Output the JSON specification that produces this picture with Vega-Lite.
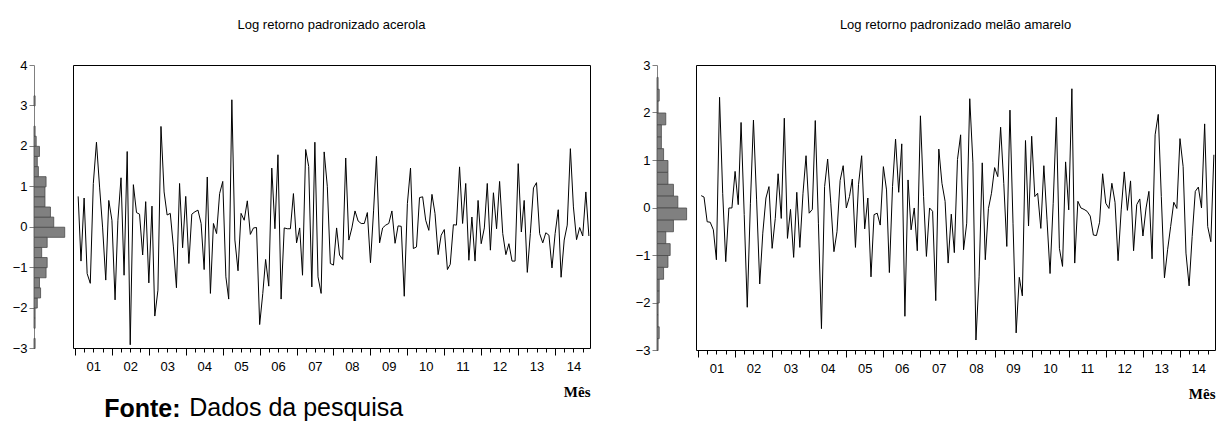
{
  "$schema": "https://vega.github.io/schema/vega-lite/v6.json",
  "background": "white",
  "padding": {"left": 12, "top": 18, "right": 5, "bottom": 0},
  "config": {
    "font": "Liberation Sans",
    "view": {"stroke": "black", "strokeWidth": 1},
    "axis": {"labelFont": "Liberation Sans", "labelColor": "black", "grid": false},
    "title": {"font": "Liberation Sans", "fontWeight": "normal", "color": "black"}
  },
  "datasets": {
    "s": [
      {"d": "2001-02", "a": 0.75, "m": 0.25},
      {"d": "2001-03", "a": -0.85, "m": 0.22},
      {"d": "2001-04", "a": 0.71, "m": -0.30},
      {"d": "2001-05", "a": -1.16, "m": -0.31},
      {"d": "2001-06", "a": -1.40, "m": -0.47},
      {"d": "2001-07", "a": 1.07, "m": -1.10},
      {"d": "2001-08", "a": 2.09, "m": 2.32},
      {"d": "2001-09", "a": 0.98, "m": 0.30},
      {"d": "2001-10", "a": -0.03, "m": -1.14},
      {"d": "2001-11", "a": -1.32, "m": -0.01},
      {"d": "2001-12", "a": 0.65, "m": -0.01},
      {"d": "2002-01", "a": 0.16, "m": 0.76},
      {"d": "2002-02", "a": -1.81, "m": 0.06},
      {"d": "2002-03", "a": 0.16, "m": 1.79},
      {"d": "2002-04", "a": 1.21, "m": -0.15},
      {"d": "2002-05", "a": -1.20, "m": -2.10},
      {"d": "2002-06", "a": 1.86, "m": 0.09},
      {"d": "2002-07", "a": -2.92, "m": 1.84},
      {"d": "2002-08", "a": 1.04, "m": 0.16},
      {"d": "2002-09", "a": 0.35, "m": -1.61},
      {"d": "2002-10", "a": 0.31, "m": -0.54},
      {"d": "2002-11", "a": -0.70, "m": 0.20},
      {"d": "2002-12", "a": 0.62, "m": 0.44},
      {"d": "2003-01", "a": -1.39, "m": -0.86},
      {"d": "2003-02", "a": 0.51, "m": -0.23},
      {"d": "2003-03", "a": -2.21, "m": 0.71},
      {"d": "2003-04", "a": -1.57, "m": -0.23},
      {"d": "2003-05", "a": 2.48, "m": 1.88},
      {"d": "2003-06", "a": 0.86, "m": -0.65},
      {"d": "2003-07", "a": 0.29, "m": -0.04},
      {"d": "2003-08", "a": 0.33, "m": -1.05},
      {"d": "2003-09", "a": -0.50, "m": 0.32},
      {"d": "2003-10", "a": -1.51, "m": -0.84},
      {"d": "2003-11", "a": 1.07, "m": 0.30},
      {"d": "2003-12", "a": -0.52, "m": 1.09},
      {"d": "2004-01", "a": 0.75, "m": -0.12},
      {"d": "2004-02", "a": -0.91, "m": -0.04},
      {"d": "2004-03", "a": 0.31, "m": 1.83},
      {"d": "2004-04", "a": 0.37, "m": -0.33},
      {"d": "2004-05", "a": 0.41, "m": -2.55},
      {"d": "2004-06", "a": 0.08, "m": 0.44},
      {"d": "2004-07", "a": -1.06, "m": 1.02},
      {"d": "2004-08", "a": 1.23, "m": 0.09},
      {"d": "2004-09", "a": -1.65, "m": -0.93},
      {"d": "2004-10", "a": 0.08, "m": -0.51},
      {"d": "2004-11", "a": -0.17, "m": 0.57},
      {"d": "2004-12", "a": 0.82, "m": 0.88},
      {"d": "2005-01", "a": 1.12, "m": -0.01},
      {"d": "2005-02", "a": -1.24, "m": 0.23},
      {"d": "2005-03", "a": -1.79, "m": 0.60},
      {"d": "2005-04", "a": 3.14, "m": -0.84},
      {"d": "2005-05", "a": -0.33, "m": 0.48},
      {"d": "2005-06", "a": -1.09, "m": 1.09},
      {"d": "2005-07", "a": 0.33, "m": -0.45},
      {"d": "2005-08", "a": 0.16, "m": 0.20},
      {"d": "2005-09", "a": 0.64, "m": -1.46},
      {"d": "2005-10", "a": -0.19, "m": -0.15},
      {"d": "2005-11", "a": -0.03, "m": -0.12},
      {"d": "2005-12", "a": -0.02, "m": -0.37},
      {"d": "2006-01", "a": -2.42, "m": 0.86},
      {"d": "2006-02", "a": -1.65, "m": 0.37},
      {"d": "2006-03", "a": -0.81, "m": -1.37},
      {"d": "2006-04", "a": -1.47, "m": 0.44},
      {"d": "2006-05", "a": 1.45, "m": 1.44},
      {"d": "2006-06", "a": -0.05, "m": 0.32},
      {"d": "2006-07", "a": 1.78, "m": 1.34},
      {"d": "2006-08", "a": -1.79, "m": -2.29},
      {"d": "2006-09", "a": -0.03, "m": 0.58},
      {"d": "2006-10", "a": -0.05, "m": -0.47},
      {"d": "2006-11", "a": -0.05, "m": -0.01},
      {"d": "2006-12", "a": 0.82, "m": -0.91},
      {"d": "2007-01", "a": -0.40, "m": 1.93},
      {"d": "2007-02", "a": -0.03, "m": 0.23},
      {"d": "2007-03", "a": -1.20, "m": -1.03},
      {"d": "2007-04", "a": 1.91, "m": -0.01},
      {"d": "2007-05", "a": 1.49, "m": -0.08},
      {"d": "2007-06", "a": -1.49, "m": -1.96},
      {"d": "2007-07", "a": 2.09, "m": 1.23},
      {"d": "2007-08", "a": -1.24, "m": 0.51},
      {"d": "2007-09", "a": -1.65, "m": 0.13},
      {"d": "2007-10", "a": 1.85, "m": -1.17},
      {"d": "2007-11", "a": 1.00, "m": -0.14},
      {"d": "2007-12", "a": -0.91, "m": -0.95},
      {"d": "2008-01", "a": -0.95, "m": 1.01},
      {"d": "2008-02", "a": -0.03, "m": 1.53},
      {"d": "2008-03", "a": -0.70, "m": -0.89},
      {"d": "2008-04", "a": -0.81, "m": -0.33},
      {"d": "2008-05", "a": 1.70, "m": 2.29},
      {"d": "2008-06", "a": -0.33, "m": 0.94},
      {"d": "2008-07", "a": -0.03, "m": -2.79},
      {"d": "2008-08", "a": 0.39, "m": -1.46},
      {"d": "2008-09", "a": 0.14, "m": 0.94},
      {"d": "2008-10", "a": 0.08, "m": -1.10},
      {"d": "2008-11", "a": 0.08, "m": -0.02},
      {"d": "2008-12", "a": 0.35, "m": 0.30},
      {"d": "2009-01", "a": -0.89, "m": 0.84},
      {"d": "2009-02", "a": 0.41, "m": 0.65},
      {"d": "2009-03", "a": 1.74, "m": 1.69},
      {"d": "2009-04", "a": -0.40, "m": 0.51},
      {"d": "2009-05", "a": -0.03, "m": -0.82},
      {"d": "2009-06", "a": 0.04, "m": 2.05},
      {"d": "2009-07", "a": 0.08, "m": -0.33},
      {"d": "2009-08", "a": 0.39, "m": -2.64},
      {"d": "2009-09", "a": -0.41, "m": -1.47},
      {"d": "2009-10", "a": 0.02, "m": -1.86},
      {"d": "2009-11", "a": 0.01, "m": 1.41},
      {"d": "2009-12", "a": -1.72, "m": -0.39},
      {"d": "2010-01", "a": 0.57, "m": 1.50},
      {"d": "2010-02", "a": 1.45, "m": 0.23},
      {"d": "2010-03", "a": -0.54, "m": 0.30},
      {"d": "2010-04", "a": -0.50, "m": -0.44},
      {"d": "2010-05", "a": 0.72, "m": 0.88},
      {"d": "2010-06", "a": 0.74, "m": -0.26},
      {"d": "2010-07", "a": 0.16, "m": -1.39},
      {"d": "2010-08", "a": -0.09, "m": 0.09},
      {"d": "2010-09", "a": 0.80, "m": 1.90},
      {"d": "2010-10", "a": 0.33, "m": -0.86},
      {"d": "2010-11", "a": -0.69, "m": -1.24},
      {"d": "2010-12", "a": -0.21, "m": 0.96},
      {"d": "2011-01", "a": -0.07, "m": -0.05},
      {"d": "2011-02", "a": -1.06, "m": 2.50},
      {"d": "2011-03", "a": -0.93, "m": -1.17},
      {"d": "2011-04", "a": 0.05, "m": 0.13},
      {"d": "2011-05", "a": 0.04, "m": -0.01},
      {"d": "2011-06", "a": 1.48, "m": -0.04},
      {"d": "2011-07", "a": 0.08, "m": -0.08},
      {"d": "2011-08", "a": 1.07, "m": -0.18},
      {"d": "2011-09", "a": -0.83, "m": -0.58},
      {"d": "2011-10", "a": 0.24, "m": -0.59},
      {"d": "2011-11", "a": -0.85, "m": -0.31},
      {"d": "2011-12", "a": 0.65, "m": 0.71},
      {"d": "2012-01", "a": -0.42, "m": 0.09},
      {"d": "2012-02", "a": -0.03, "m": -0.02},
      {"d": "2012-03", "a": 1.07, "m": 0.51},
      {"d": "2012-04", "a": -0.58, "m": 0.11},
      {"d": "2012-05", "a": 0.84, "m": -1.12},
      {"d": "2012-06", "a": -0.05, "m": -0.05},
      {"d": "2012-07", "a": 1.12, "m": 0.75},
      {"d": "2012-08", "a": -0.17, "m": -0.06},
      {"d": "2012-09", "a": -0.69, "m": 0.56},
      {"d": "2012-10", "a": -0.42, "m": -0.91},
      {"d": "2012-11", "a": -0.85, "m": 0.06},
      {"d": "2012-12", "a": -0.85, "m": 0.18},
      {"d": "2013-01", "a": 1.56, "m": -0.60},
      {"d": "2013-02", "a": -0.13, "m": -0.01},
      {"d": "2013-03", "a": 0.65, "m": 0.34},
      {"d": "2013-04", "a": -1.13, "m": -1.08},
      {"d": "2013-05", "a": -0.17, "m": 1.53},
      {"d": "2013-06", "a": 0.96, "m": 1.96},
      {"d": "2013-07", "a": 1.09, "m": 0.23},
      {"d": "2013-08", "a": -0.17, "m": -1.48},
      {"d": "2013-09", "a": -0.40, "m": -0.89},
      {"d": "2013-10", "a": -0.15, "m": -0.40},
      {"d": "2013-11", "a": -0.21, "m": 0.11},
      {"d": "2013-12", "a": -1.02, "m": -0.02},
      {"d": "2014-01", "a": -0.17, "m": 1.45},
      {"d": "2014-02", "a": 0.42, "m": 0.86},
      {"d": "2014-03", "a": -1.25, "m": -0.96},
      {"d": "2014-04", "a": -0.33, "m": -1.65},
      {"d": "2014-05", "a": 0.04, "m": -0.61},
      {"d": "2014-06", "a": 1.93, "m": 0.34},
      {"d": "2014-07", "a": 0.49, "m": 0.43},
      {"d": "2014-08", "a": -0.32, "m": -0.01},
      {"d": "2014-09", "a": -0.02, "m": 1.76},
      {"d": "2014-10", "a": -0.23, "m": -0.40},
      {"d": "2014-11", "a": 0.86, "m": -0.72},
      {"d": "2014-12", "a": -0.23, "m": 1.11}
    ]
  },
  "title": {"text": "Fonte:", "orient": "bottom", "anchor": "start", "fontSize": 25, "fontWeight": "bold", "dx": 92, "dy": -26, "offset": 2},
  "spacing": 43,
  "hconcat": [
    {
      "spacing": 4,
      "title": {"text": "Dados da pesquisa", "orient": "bottom", "anchor": "start", "fontSize": 25, "dx": 177, "offset": -4},
      "hconcat": [
        {
          "width": 34,
          "height": 283,
          "view": {"stroke": null},
          "data": {"name": "s"},
          "mark": {"type": "bar", "fill": "#808080", "stroke": "#4a4a4a", "strokeWidth": 0.8, "binSpacing": 0},
          "encoding": {
            "y": {"field": "a", "type": "quantitative", "bin": {"step": 0.25, "extent": [-3, 4]},
                  "scale": {"domain": [-3, 4], "nice": false, "zero": false},
                  "axis": {"title": null, "values": [-3, -2, -1, 0, 1, 2, 3, 4], "format": "d", "tickSize": 5, "tickColor": "#808080", "domainColor": "#808080", "labelFontSize": 13, "labelPadding": 2, "labelFlush": false, "labelOverlap": false}},
            "x": {"aggregate": "count", "type": "quantitative", "scale": {"domain": [0, 31]}, "axis": null}
          }
        },
        {
          "width": 517,
          "height": 283,
          "title": {"text": "Log retorno padronizado acerola", "fontSize": 13, "offset": 33},
          "data": {"name": "s"},
          "mark": {"type": "line", "color": "black", "strokeWidth": 1},
          "encoding": {
            "x": {"field": "d", "type": "temporal",
                  "scale": {"type": "utc", "domain": [{"year": 2000, "month": 12, "date": 12, "utc": true}, {"year": 2014, "month": 12, "date": 12, "utc": true}]},
                  "axis": {"title": "Mês", "titleFont": "Liberation Serif", "titleFontWeight": "bold", "titleFontSize": 15, "titleAnchor": "end", "titlePadding": 8,
                           "domain": false, "tickCount": {"interval": "month", "step": 3},
                           "tickSize": {"condition": {"test": "utcmonth(datum.value) == 0", "value": 7}, "value": 4},
                           "tickColor": "black", "labelExpr": "utcmonth(datum.value) == 6 ? utcFormat(datum.value, '%y') : ''",
                           "labelOverlap": false, "labelFlush": false, "labelFontSize": 13, "labelPadding": 8}},
            "y": {"field": "a", "type": "quantitative", "scale": {"domain": [-3, 4], "nice": false, "zero": false}, "axis": null}
          }
        }
      ]
    },
    {
      "spacing": 4,
      "hconcat": [
        {
          "width": 34,
          "height": 285,
          "view": {"stroke": null},
          "data": {"name": "s"},
          "mark": {"type": "bar", "fill": "#808080", "stroke": "#4a4a4a", "strokeWidth": 0.8, "binSpacing": 0},
          "encoding": {
            "y": {"field": "m", "type": "quantitative", "bin": {"step": 0.25, "extent": [-3, 3]},
                  "scale": {"domain": [-3, 3], "nice": false, "zero": false},
                  "axis": {"title": null, "values": [-3, -2, -1, 0, 1, 2, 3], "format": "d", "tickSize": 5, "tickColor": "#808080", "domainColor": "#808080", "labelFontSize": 13, "labelPadding": 2, "labelFlush": false, "labelOverlap": false}},
            "x": {"aggregate": "count", "type": "quantitative", "scale": {"domain": [0, 31]}, "axis": null}
          }
        },
        {
          "width": 519,
          "height": 285,
          "title": {"text": "Log retorno padronizado melão amarelo", "fontSize": 13, "offset": 33},
          "data": {"name": "s"},
          "mark": {"type": "line", "color": "black", "strokeWidth": 1},
          "encoding": {
            "x": {"field": "d", "type": "temporal",
                  "scale": {"type": "utc", "domain": [{"year": 2000, "month": 12, "date": 12, "utc": true}, {"year": 2014, "month": 12, "date": 12, "utc": true}]},
                  "axis": {"title": "Mês", "titleFont": "Liberation Serif", "titleFontWeight": "bold", "titleFontSize": 15, "titleAnchor": "end", "titlePadding": 8,
                           "domain": false, "tickCount": {"interval": "month", "step": 3},
                           "tickSize": {"condition": {"test": "utcmonth(datum.value) == 0", "value": 7}, "value": 4},
                           "tickColor": "black", "labelExpr": "utcmonth(datum.value) == 6 ? utcFormat(datum.value, '%y') : ''",
                           "labelOverlap": false, "labelFlush": false, "labelFontSize": 13, "labelPadding": 8}},
            "y": {"field": "m", "type": "quantitative", "scale": {"domain": [-3, 3], "nice": false, "zero": false}, "axis": null}
          }
        }
      ]
    }
  ]
}
